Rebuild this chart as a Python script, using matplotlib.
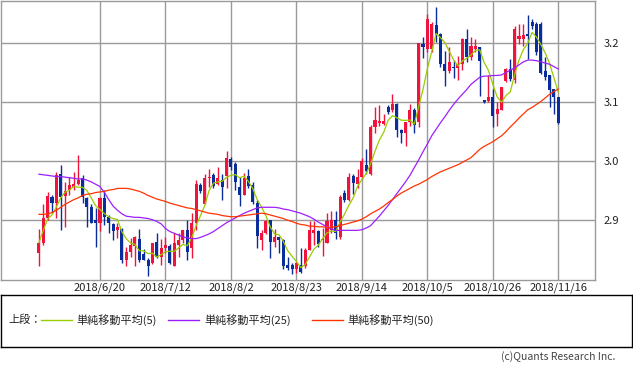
import matplotlib
matplotlib.use("Agg")
import matplotlib.pyplot as plt
import numpy as np
import pandas as pd

plt.rcParams['font.family'] = ['Noto Sans CJK JP', 'DejaVu Sans']

# daily candles (open, high, low, close), first bar is 2018/5/30
opens = [2.845, 2.862, 2.904, 2.940, 2.929, 2.978, 2.941, 2.951, 2.956, 2.961,
         2.971, 2.937, 2.923, 2.900, 2.895, 2.937, 2.905, 2.894, 2.884, 2.886,
         2.833, 2.847, 2.856, 2.869, 2.843, 2.833, 2.828, 2.864, 2.838, 2.853,
         2.857, 2.823, 2.858, 2.866, 2.883, 2.853, 2.896, 2.959, 2.927, 2.972,
         2.977, 2.961, 2.968, 2.975, 3.003, 2.996, 2.957, 2.943, 2.975, 2.959,
         2.930, 2.866, 2.878, 2.900, 2.864, 2.871, 2.867, 2.825, 2.824, 2.817,
         2.824, 2.822, 2.850, 2.878, 2.882, 2.866, 2.861, 2.883, 2.900, 2.872,
         2.946, 2.935, 2.975, 2.962, 2.974, 2.994, 2.979, 3.058, 3.065, 3.063,
         3.091, 3.086, 3.096, 3.052, 3.047, 3.066, 3.087, 3.066, 3.198, 3.190,
         3.190, 3.231, 3.215, 3.165, 3.153, 3.160, 3.157, 3.165, 3.207, 3.176,
         3.190, 3.193, 3.103, 3.101, 3.108, 3.080, 3.087, 3.136, 3.156, 3.137,
         3.206, 3.206, 3.215, 3.236, 3.232, 3.232, 3.152, 3.145, 3.122, 3.108]
highs = [2.886, 2.927, 2.948, 2.942, 2.982, 2.994, 2.965, 2.973, 2.981, 3.010,
         2.976, 2.940, 2.927, 2.920, 2.940, 2.951, 2.909, 2.896, 2.895, 2.887,
         2.855, 2.870, 2.873, 2.885, 2.852, 2.836, 2.862, 2.878, 2.869, 2.871,
         2.860, 2.878, 2.878, 2.884, 2.900, 2.912, 2.968, 2.963, 2.978, 2.986,
         2.980, 2.990, 2.979, 3.017, 3.007, 2.999, 2.973, 2.980, 2.986, 2.965,
         2.934, 2.884, 2.900, 2.900, 2.885, 2.871, 2.869, 2.838, 2.827, 2.830,
         2.853, 2.853, 2.898, 2.898, 2.883, 2.887, 2.912, 2.916, 2.915, 2.942,
         2.951, 2.980, 2.978, 2.986, 3.005, 3.021, 3.062, 3.091, 3.095, 3.080,
         3.095, 3.113, 3.098, 3.055, 3.066, 3.096, 3.090, 3.200, 3.210, 3.249,
         3.235, 3.261, 3.217, 3.187, 3.193, 3.171, 3.178, 3.208, 3.223, 3.210,
         3.207, 3.193, 3.104, 3.145, 3.122, 3.100, 3.125, 3.158, 3.173, 3.228,
         3.232, 3.232, 3.248, 3.240, 3.236, 3.236, 3.176, 3.146, 3.122, 3.109]
lows = [2.822, 2.858, 2.900, 2.912, 2.904, 2.884, 2.889, 2.942, 2.951, 2.959,
        2.929, 2.889, 2.896, 2.854, 2.882, 2.892, 2.878, 2.866, 2.870, 2.828,
        2.822, 2.838, 2.823, 2.830, 2.832, 2.806, 2.826, 2.837, 2.824, 2.844,
        2.826, 2.823, 2.838, 2.862, 2.833, 2.837, 2.883, 2.946, 2.927, 2.956,
        2.954, 2.959, 2.934, 2.954, 2.985, 2.951, 2.924, 2.943, 2.954, 2.927,
        2.853, 2.850, 2.877, 2.837, 2.855, 2.844, 2.817, 2.816, 2.809, 2.811,
        2.811, 2.819, 2.849, 2.858, 2.855, 2.840, 2.861, 2.878, 2.869, 2.869,
        2.931, 2.933, 2.944, 2.955, 2.970, 2.979, 2.977, 3.047, 3.060, 3.062,
        3.080, 3.083, 3.041, 3.030, 3.025, 3.060, 3.047, 3.058, 3.175, 3.185,
        3.185, 3.201, 3.160, 3.128, 3.150, 3.141, 3.138, 3.155, 3.168, 3.172,
        3.185, 3.111, 3.098, 3.100, 3.057, 3.059, 3.087, 3.134, 3.135, 3.133,
        3.198, 3.195, 3.173, 3.223, 3.180, 3.148, 3.138, 3.091, 3.080, 3.063]
closes = [2.862, 2.904, 2.941, 2.930, 2.976, 2.940, 2.950, 2.959, 2.962, 2.969,
          2.939, 2.923, 2.896, 2.896, 2.937, 2.905, 2.895, 2.882, 2.888, 2.833,
          2.847, 2.858, 2.871, 2.833, 2.833, 2.823, 2.862, 2.838, 2.853, 2.858,
          2.828, 2.861, 2.866, 2.883, 2.847, 2.896, 2.961, 2.950, 2.972, 2.974,
          2.958, 2.971, 2.956, 3.005, 2.990, 2.965, 2.943, 2.972, 2.958, 2.931,
          2.873, 2.878, 2.899, 2.864, 2.871, 2.866, 2.823, 2.819, 2.817, 2.827,
          2.813, 2.850, 2.883, 2.883, 2.860, 2.869, 2.898, 2.900, 2.878, 2.940,
          2.934, 2.974, 2.963, 2.974, 3.001, 2.983, 3.057, 3.069, 3.068, 3.068,
          3.083, 3.097, 3.052, 3.047, 3.066, 3.086, 3.062, 3.200, 3.193, 3.240,
          3.232, 3.215, 3.165, 3.153, 3.167, 3.157, 3.164, 3.206, 3.176, 3.195,
          3.195, 3.170, 3.100, 3.108, 3.077, 3.089, 3.125, 3.156, 3.139, 3.223,
          3.212, 3.214, 3.211, 3.229, 3.184, 3.150, 3.142, 3.121, 3.108, 3.064]

# 25 and 50 day averages (they need history before the first bar)
ma25 = [2.978, 2.977, 2.976, 2.975, 2.974, 2.974, 2.973, 2.972, 2.971, 2.970,
        2.970, 2.968, 2.965, 2.961, 2.957, 2.947, 2.935, 2.924, 2.917, 2.911,
        2.907, 2.906, 2.905, 2.905, 2.904, 2.903, 2.901, 2.898, 2.894, 2.886,
        2.881, 2.878, 2.875, 2.872, 2.870, 2.869, 2.869, 2.871, 2.874, 2.877,
        2.881, 2.886, 2.891, 2.896, 2.900, 2.904, 2.908, 2.912, 2.915, 2.918,
        2.921, 2.922, 2.922, 2.922, 2.922, 2.921, 2.919, 2.918, 2.916, 2.914,
        2.912, 2.909, 2.906, 2.902, 2.897, 2.893, 2.889, 2.885, 2.883, 2.883,
        2.883, 2.883, 2.883, 2.883, 2.884, 2.887, 2.891, 2.899, 2.907, 2.916,
        2.925, 2.935, 2.945, 2.955, 2.965, 2.976, 2.989, 3.002, 3.016, 3.029,
        3.043, 3.054, 3.065, 3.075, 3.086, 3.096, 3.105, 3.113, 3.121, 3.130,
        3.136, 3.142, 3.144, 3.144, 3.145, 3.145, 3.146, 3.150, 3.154, 3.158,
        3.163, 3.168, 3.171, 3.171, 3.170, 3.168, 3.166, 3.164, 3.160, 3.156]
ma50 = [2.910, 2.910, 2.911, 2.913, 2.917, 2.922, 2.927, 2.931, 2.935, 2.938,
        2.942, 2.944, 2.945, 2.947, 2.948, 2.949, 2.951, 2.952, 2.954, 2.954,
        2.954, 2.953, 2.951, 2.949, 2.946, 2.942, 2.939, 2.936, 2.934, 2.932,
        2.929, 2.927, 2.925, 2.923, 2.921, 2.920, 2.918, 2.916, 2.914, 2.912,
        2.911, 2.910, 2.908, 2.907, 2.906, 2.906, 2.907, 2.908, 2.909, 2.910,
        2.911, 2.912, 2.911, 2.909, 2.907, 2.905, 2.903, 2.900, 2.898, 2.895,
        2.893, 2.892, 2.890, 2.890, 2.889, 2.889, 2.888, 2.888, 2.889, 2.891,
        2.893, 2.895, 2.897, 2.899, 2.902, 2.906, 2.911, 2.915, 2.919, 2.924,
        2.930, 2.935, 2.941, 2.946, 2.950, 2.954, 2.958, 2.961, 2.965, 2.969,
        2.974, 2.978, 2.982, 2.985, 2.988, 2.991, 2.994, 2.998, 3.002, 3.006,
        3.013, 3.020, 3.025, 3.029, 3.033, 3.038, 3.043, 3.050, 3.058, 3.065,
        3.073, 3.080, 3.087, 3.091, 3.096, 3.101, 3.107, 3.113, 3.118, 3.122]

tick_pos = [14, 29, 44, 59, 74, 89, 104, 119]
tick_labels = ["2018/6/20", "2018/7/12", "2018/8/2", "2018/8/23",
               "2018/9/14", "2018/10/5", "2018/10/26", "2018/11/16"]
y_ticks = [2.9, 3.0, 3.1, 3.2]

o = np.array(opens); h = np.array(highs); l = np.array(lows); c = np.array(closes)
x = np.arange(len(c))
ma5 = pd.Series(c).rolling(5, min_periods=1).mean()

UP = "#f0143c"
DOWN = "#0a2d9c"
GRID = "#9a9a9a"

fig = plt.figure(figsize=(6.33, 3.70), dpi=100)
ax = fig.add_axes([0.0015, 1 - 280 / 370, 594 / 633, 279 / 370])

up = c >= o
colors = np.where(up, UP, DOWN)
ax.vlines(x, l, h, colors=colors, linewidth=1, zorder=3)
body_h = np.maximum(np.abs(c - o), 0.0015)
ax.bar(x, body_h, bottom=np.minimum(o, c), width=0.7, color=colors,
       linewidth=0, zorder=4)

ax.plot(x, ma5, color="#99cc00", lw=0.9, zorder=5)
ax.plot(x, ma25, color="#9d1fff", lw=0.9, zorder=5)
ax.plot(x, ma50, color="#ff3300", lw=0.9, zorder=5)

ax.set_xlim(-8.7, 127.4)
ax.set_ylim(2.799, 3.271)
ax.set_xticks(tick_pos)
ax.set_xticklabels(tick_labels, fontsize=8, color="#222222")
ax.set_yticks(y_ticks)
ax.set_yticklabels([f"{v:.1f}" for v in y_ticks], fontsize=8, color="#222222")
ax.yaxis.tick_right()
ax.tick_params(axis="both", length=0)
ax.tick_params(axis="y", pad=6)
ax.tick_params(axis="x", pad=2)
ax.grid(True, color=GRID, lw=1)
ax.set_axisbelow(True)
for s in ax.spines.values():
    s.set_color(GRID)
    s.set_linewidth(1)

# legend box
lg = fig.add_axes([0.0015, 1 - 347 / 370, 631 / 633, 52 / 370])
lg.set_xlim(0, 633)
lg.set_ylim(0, 52)
lg.set_xticks([])
lg.set_yticks([])
for s in lg.spines.values():
    s.set_color("black")
    s.set_linewidth(1)
ly = 52 - (320 - 295)
lg.text(8, ly, "上段：", fontsize=8, va="center", color="#222222")
items = [(40, 71, 76, "#99cc00", "単純移動平均(5)"),
         (168, 199, 204, "#9d1fff", "単純移動平均(25)"),
         (312, 343, 348, "#ff3300", "単純移動平均(50)")]
for x0, x1, tx, col, name in items:
    lg.plot([x0, x1], [ly, ly], color=col, lw=1)
    lg.text(tx, ly, name, fontsize=8, va="center", color="#222222")

fig.text(615 / 633, 1 - 357 / 370, "(c)Quants Research Inc.", fontsize=7.5,
         ha="right", va="center", color="#444444")

fig.savefig("out.png", dpi=100)
